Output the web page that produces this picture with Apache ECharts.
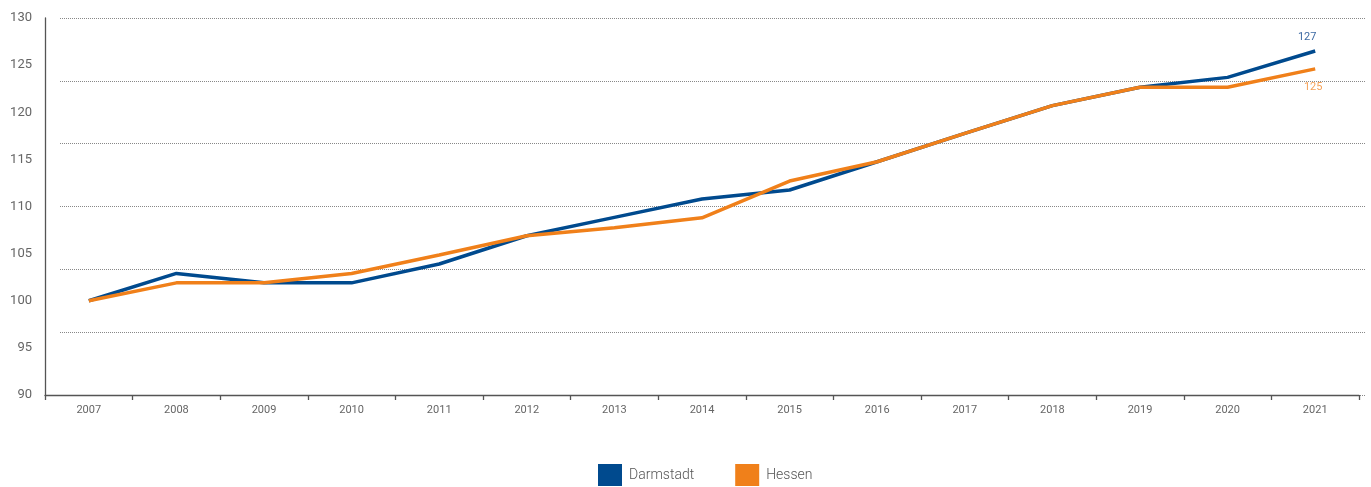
<!DOCTYPE html>
<html>
<head>
<meta charset="utf-8">
<script src="https://cdn.jsdelivr.net/npm/echarts@6/dist/echarts.min.js"></script>
<style>
html,body{margin:0;padding:0;background:#fff;}
#chart{width:1371px;height:487px;}
</style>
</head>
<body>
<div id="chart"></div>
<script>
const years = ['2007','2008','2009','2010','2011','2012','2013','2014','2015','2016','2017','2018','2019','2020','2021'];
const darmstadt = [100, 102.9, 101.9, 101.9, 103.9, 106.9, 108.85, 110.8, 111.75, 114.75, 117.75, 120.7, 122.65, 123.7, 126.5];
const hessen = [100, 101.9, 101.9, 102.9, 104.85, 106.9, 107.75, 108.8, 112.7, 114.75, 117.75, 120.7, 122.65, 122.65, 124.6];
const yTicks = [90, 95, 100, 105, 110, 115, 120, 125, 130];
const seriesNames = ['Darmstadt', 'Hessen'];

const blue = '#004a8e';
const orange = '#f0801a';

function withEndLabel(values, labelOpts) {
  return values.map((v, i) => i === values.length - 1 ? { value: v, label: labelOpts } : v);
}

const chart = echarts.init(document.getElementById('chart'));
chart.setOption({
  animation: false,
  textStyle: { fontFamily: 'Roboto, "Open Sans", sans-serif' },
  grid: [
    { left: 45, right: 12, top: 18, bottom: 92, containLabel: false },
    { left: 60, right: 6, top: 18, bottom: 92, containLabel: false }
  ],
  legend: {
    data: seriesNames,
    top: 459,
    left: 593,
    icon: 'rect',
    itemWidth: 24,
    itemHeight: 22,
    itemGap: 41,
    textStyle: { color: '#555', fontSize: 14, fontFamily: 'Roboto, sans-serif', fontWeight: 300, padding: [0, 0, 0, 2] }
  },
  xAxis: [
    {
      type: 'category',
      gridIndex: 0,
      data: years,
      boundaryGap: true,
      axisLine: { lineStyle: { color: '#555', width: 1.3 } },
      axisTick: { show: true, length: 5, lineStyle: { color: '#555', width: 1.3 } },
      axisLabel: { color: '#666', fontSize: 11, margin: 10 },
      splitLine: { show: false }
    },
    {
      type: 'value',
      gridIndex: 1,
      show: false,
      min: 0, max: 1
    }
  ],
  yAxis: [
    {
      type: 'value',
      gridIndex: 0,
      min: yTicks[0],
      max: yTicks[yTicks.length - 1],
      interval: yTicks[1] - yTicks[0],
      axisLine: { show: true, lineStyle: { color: '#555', width: 1.3 } },
      axisTick: { show: false },
      axisLabel: { color: '#666', fontSize: 13, margin: 13 },
      splitLine: { show: false }
    },
    {
      type: 'value',
      gridIndex: 1,
      min: 0, max: 6, interval: 1,
      axisLine: { show: false },
      axisTick: { show: false },
      axisLabel: { show: false },
      splitLine: { show: true, lineStyle: { type: 'dotted', color: '#888', width: 1 } }
    }
  ],
  series: [
    {
      name: seriesNames[0],
      type: 'line',
      xAxisIndex: 0, yAxisIndex: 0,
      data: withEndLabel(darmstadt, {
        show: true, position: 'top', distance: 8, offset: [-8, 0],
        color: '#3d6aa3', fontSize: 11,
        formatter: p => Math.round(p.value)
      }),
      showSymbol: true,
      symbol: 'circle',
      symbolSize: 0,
      lineStyle: { color: blue, width: 3.5 },
      itemStyle: { color: blue },
      label: { show: false },
      z: 2
    },
    {
      name: seriesNames[1],
      type: 'line',
      xAxisIndex: 0, yAxisIndex: 0,
      data: withEndLabel(hessen, {
        show: true, position: 'bottom', distance: 13, offset: [-2, 0],
        color: '#f5a25a', fontSize: 11,
        formatter: p => Math.round(p.value)
      }),
      showSymbol: true,
      symbol: 'circle',
      symbolSize: 0,
      lineStyle: { color: orange, width: 3.5 },
      itemStyle: { color: orange },
      label: { show: false },
      z: 3
    }
  ]
});
</script>
</body>
</html>
